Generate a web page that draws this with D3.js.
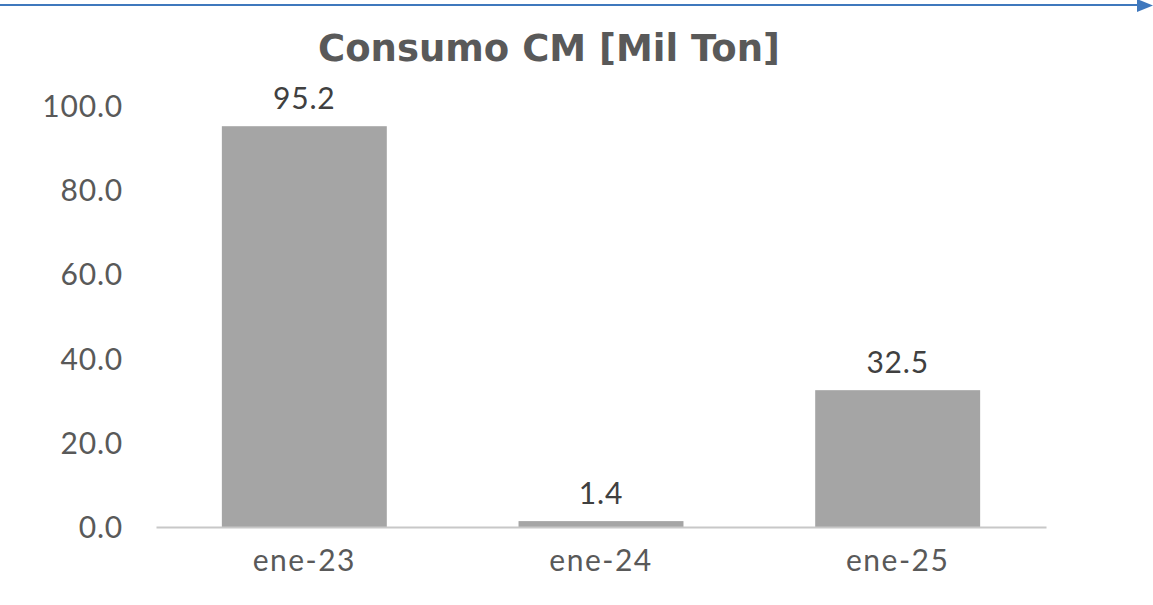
<!DOCTYPE html>
<html lang="es">
<head>
<meta charset="utf-8">
<title>Consumo CM</title>
<script src="https://cdn.jsdelivr.net/npm/d3@7"></script>
<style>
  body { margin: 0; background: #fff; }
  svg { display: block; font-family: Lato, "Open Sans", sans-serif; }
</style>
</head>
<body>
<script>
// datos
var categories = ["ene-23", "ene-24", "ene-25"];
var values = [95.2, 1.4, 32.5];
var yTicks = [0, 20, 40, 60, 80, 100];
var title = "Consumo CM [Mil Ton]";

var W = 1153, H = 605;
var svg = d3.select("body").append("svg")
    .attr("width", W)
    .attr("height", H);

// flecha azul arriba
svg.append("line")
    .attr("x1", 0).attr("x2", 1140)
    .attr("y1", 5).attr("y2", 5)
    .attr("stroke", "#3f78bd")
    .attr("stroke-width", 2.2);
svg.append("path")
    .attr("d", "M1137,-1L1153,5.5L1137,12Z")
    .attr("fill", "#3f78bd");

var x = d3.scaleBand()
    .domain(categories)
    .range([156, 1046])
    .paddingInner(0.444)
    .paddingOuter(0.222);

var y = d3.scaleLinear()
    .domain([0, 100])
    .range([527, 106]);

svg.append("text")
    .attr("x", 549)
    .attr("y", 61)
    .attr("text-anchor", "middle")
    .attr("font-family", "'DejaVu Sans', sans-serif")
    .attr("font-size", 37)
    .attr("font-weight", "bold")
    .attr("fill", "#595959")
    .attr("textLength", 462)
    .attr("lengthAdjust", "spacingAndGlyphs")
    .text(title);

// eje y (solo etiquetas)
var yAxis = svg.append("g")
    .attr("transform", "translate(123,0)")
    .call(d3.axisLeft(y).tickValues(yTicks).tickSize(0).tickPadding(0)
        .tickFormat(d3.format(".1f")));
yAxis.select(".domain").remove();
yAxis.selectAll("text")
    .attr("font-size", 30)
    .attr("font-family", "Lato, sans-serif")
    .attr("letter-spacing", 0.8)
    .attr("fill", "#595959")
    .attr("dy", "0.35em");

// barras
svg.selectAll("rect.bar")
    .data(values)
    .enter().append("rect")
    .attr("class", "bar")
    .attr("x", function(d, i) { return x(categories[i]); })
    .attr("width", x.bandwidth())
    .attr("y", function(d) { return y(d); })
    .attr("height", function(d) { return y(0) - y(d); })
    .attr("fill", "#a5a5a5");

// eje x
var xAxis = svg.append("g")
    .attr("transform", "translate(0," + y(0) + ")")
    .call(d3.axisBottom(x).tickSize(0).tickPadding(0));
xAxis.select(".domain")
    .attr("stroke", "#c8c8c8")
    .attr("stroke-width", 2);
xAxis.selectAll("text")
    .attr("font-size", 30)
    .attr("font-family", "Lato, sans-serif")
    .attr("letter-spacing", 1.5)
    .attr("fill", "#595959")
    .attr("dy", "1.45em");

// etiquetas de valores
svg.selectAll("text.val")
    .data(values)
    .enter().append("text")
    .attr("class", "val")
    .attr("x", function(d, i) { return x(categories[i]) + x.bandwidth() / 2; })
    .attr("y", function(d) { return y(d) - 17; })
    .attr("text-anchor", "middle")
    .attr("font-size", 30)
    .attr("letter-spacing", 0.8)
    .attr("fill", "#404040")
    .text(function(d) { return d3.format(".1f")(d); });
</script>
</body>
</html>
